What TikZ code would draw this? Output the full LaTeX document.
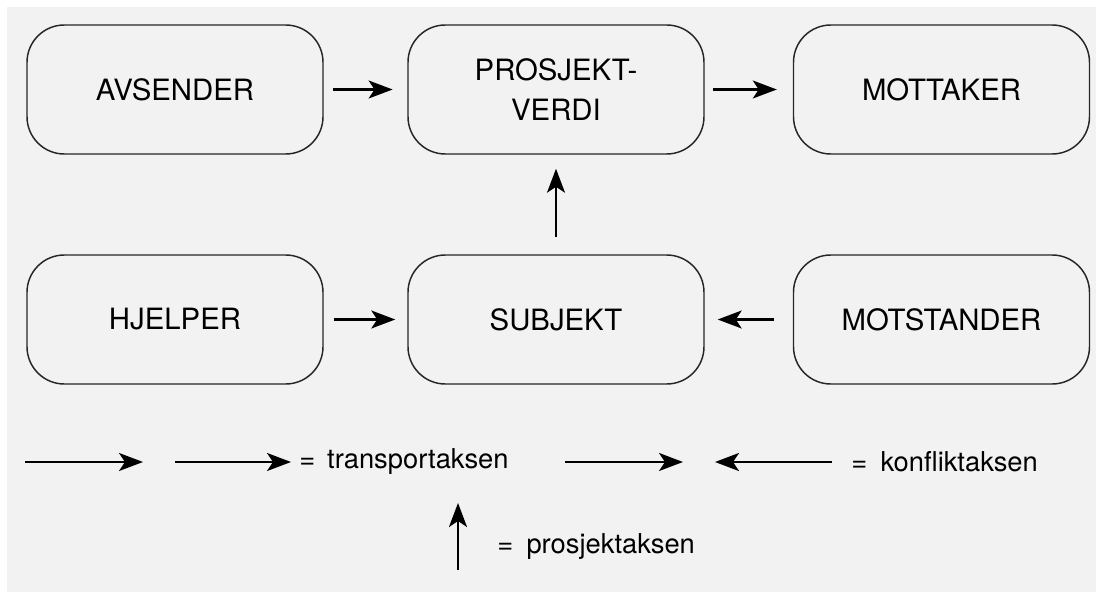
\documentclass[tikz,border=0pt]{standalone}
\usepackage{fontspec}
\setmainfont{TeX Gyre Heros}
\usetikzlibrary{arrows.meta}
\definecolor{bggray}{HTML}{F2F2F2}
\tikzset{
  actant/.style={draw=black!85, line width=1.1pt, rounded corners=28pt,
    minimum width=222pt, minimum height=96.75pt, inner sep=0pt,
    align=center, font=\fontsize{22}{29.5}\selectfont},
  axis/.style={line width=1.7pt, -{Stealth[length=18pt, width=13.5pt, inset=4.5pt]}},
  legend/.style={anchor=west, inner sep=0pt, font=\fontsize{20.5}{24}\selectfont}
}
\begin{document}
\begin{tikzpicture}[x=0.75pt, y=-0.75pt]
\useasboundingbox (0,0) rectangle (1096,592);
\fill[white] (0,0) rectangle (1096,592);
\fill[bggray] (7,7) rectangle (1096,592);

\node[actant] (avs) at (175,89.5) {AVSENDER};
\node[actant] (pv) at (556,89.5) {PROSJEKT-\\VERDI};
\node[actant] (mot) at (941.5,89.5) {MOTTAKER};
\node[actant] (hje) at (175,319.5) {HJELPER};
\node[actant] (sub) at (556,319.5) {SUBJEKT};
\node[actant] (mst) at (941.5,319.5) {MOTSTANDER};

\draw[axis, shorten <=7pt, shorten >=11pt] (avs) -- (pv);
\draw[axis, shorten <=6pt, shorten >=12pt] (pv) -- (mot);
\draw[axis, shorten <=12.75pt, shorten >=10.5pt] (sub) -- (pv);
\draw[axis, shorten <=7.5pt, shorten >=9pt] (hje) -- (sub);
\draw[axis, shorten <=14pt, shorten >=9.75pt] (mst) -- (sub);

% legend
\coordinate (l1a) at (25,462);
\coordinate (l1b) at (143,462);
\coordinate (l2a) at (175,462);
\coordinate (l2b) at (291,462);
\coordinate (l3a) at (565,462);
\coordinate (l3b) at (683,462);
\coordinate (l4a) at (832,462);
\coordinate (l4b) at (715,462);
\coordinate (l5a) at (458,570);
\coordinate (l5b) at (458,503);
\draw[axis] (l1a) -- (l1b);
\draw[axis] (l2a) -- (l2b);
\draw[axis] (l3a) -- (l3b);
\draw[axis] (l4a) -- (l4b);
\draw[axis] (l5a) -- (l5b);

\node[legend] (trans) at (299,462) {=\hspace{9pt}transportaksen};
\node[legend] (konf) at (851,462) {=\hspace{10pt}konfliktaksen};
\node[legend] (pros) at (497,547) {=\hspace{10pt}prosjektaksen};
\end{tikzpicture}
\end{document}
